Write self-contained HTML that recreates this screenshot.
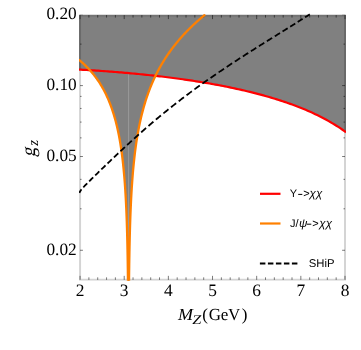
<!DOCTYPE html>
<html><head><meta charset="utf-8"><style>
html,body{margin:0;padding:0;background:#fff;}
svg{display:block;will-change:transform}
text{fill:#000;text-rendering:geometricPrecision}
.s{font-family:"Liberation Serif",serif}
.n{font-family:"Liberation Sans",sans-serif;}
</style></head><body>
<svg width="361" height="350" viewBox="0 0 361 350">
<rect width="361" height="350" fill="#fff"/>
<defs><clipPath id="c"><rect x="79.00" y="14.80" width="267.00" height="266.05"/></clipPath><clipPath id="c2"><rect x="79.00" y="5" width="267.00" height="275.85"/></clipPath></defs>
<path d="M79.00,14.80 L79.00,69.57 L79.66,69.60 L80.31,69.64 L80.97,69.68 L81.62,69.71 L82.28,69.75 L82.93,69.78 L83.59,69.82 L84.24,69.86 L84.90,69.90 L85.55,69.93 L86.21,69.97 L86.86,70.01 L87.52,70.05 L88.17,70.09 L88.83,70.13 L89.48,70.17 L90.14,70.44 L90.79,71.18 L91.45,71.93 L92.10,72.70 L92.76,73.49 L93.41,74.30 L94.07,75.12 L94.72,75.97 L95.38,76.83 L96.04,77.71 L96.69,78.62 L97.35,79.54 L98.00,80.49 L98.66,81.47 L99.31,82.47 L99.97,83.49 L100.62,84.54 L101.28,85.62 L101.93,86.73 L102.59,87.88 L103.24,89.05 L103.90,90.26 L104.55,91.51 L105.21,92.79 L105.86,94.12 L106.52,95.49 L107.17,96.91 L107.83,98.37 L108.48,99.89 L109.14,101.46 L109.79,103.09 L110.45,104.78 L111.10,106.54 L111.76,108.38 L112.41,110.29 L113.07,112.29 L113.73,114.38 L114.38,116.57 L115.04,118.88 L115.69,121.30 L116.35,123.86 L117.00,126.57 L117.66,129.45 L118.31,132.51 L118.97,135.79 L119.62,139.30 L120.28,143.10 L120.93,147.23 L121.59,151.74 L122.24,156.72 L122.90,162.26 L123.55,168.51 L124.21,175.67 L124.23,175.93 L124.25,176.19 L124.27,176.45 L124.30,176.72 L124.32,176.98 L124.34,177.25 L124.36,177.52 L124.39,177.79 L124.41,178.06 L124.43,178.34 L124.45,178.61 L124.47,178.89 L124.50,179.17 L124.52,179.45 L124.54,179.73 L124.56,180.01 L124.58,180.30 L124.61,180.58 L124.63,180.87 L124.65,181.16 L124.67,181.45 L124.70,181.75 L124.72,182.04 L124.74,182.34 L124.76,182.64 L124.78,182.94 L124.81,183.24 L124.83,183.54 L124.85,183.85 L124.87,184.16 L124.89,184.47 L124.92,184.78 L124.94,185.09 L124.96,185.41 L124.98,185.73 L125.01,186.04 L125.03,186.37 L125.05,186.69 L125.07,187.02 L125.09,187.34 L125.12,187.67 L125.14,188.01 L125.16,188.34 L125.18,188.68 L125.20,189.02 L125.23,189.36 L125.25,189.70 L125.27,190.05 L125.29,190.40 L125.32,190.75 L125.34,191.10 L125.36,191.46 L125.38,191.82 L125.40,192.18 L125.43,192.54 L125.45,192.91 L125.47,193.28 L125.49,193.65 L125.51,194.02 L125.54,194.40 L125.56,194.78 L125.58,195.16 L125.60,195.55 L125.62,195.94 L125.65,196.33 L125.67,196.73 L125.69,197.13 L125.71,197.53 L125.74,197.93 L125.76,198.34 L125.78,198.75 L125.80,199.17 L125.82,199.59 L125.85,200.01 L125.87,200.44 L125.89,200.86 L125.91,201.30 L125.93,201.73 L125.96,202.18 L125.98,202.62 L126.00,203.07 L126.02,203.52 L126.05,203.98 L126.07,204.44 L126.09,204.90 L126.11,205.37 L126.13,205.85 L126.16,206.33 L126.18,206.81 L126.20,207.30 L126.22,207.79 L126.24,208.29 L126.27,208.79 L126.29,209.30 L126.31,209.81 L126.33,210.33 L126.36,210.85 L126.38,211.38 L126.40,211.91 L126.42,212.45 L126.44,213.00 L126.47,213.55 L126.49,214.11 L126.51,214.67 L126.53,215.24 L126.55,215.82 L126.58,216.40 L126.60,216.99 L126.62,217.59 L126.64,218.20 L126.67,218.81 L126.69,219.43 L126.71,220.05 L126.73,220.69 L126.75,221.33 L126.78,221.99 L126.80,222.65 L126.82,223.31 L126.84,223.99 L126.86,224.68 L126.89,225.38 L126.91,226.08 L126.93,226.80 L126.95,227.52 L126.98,228.26 L127.00,229.01 L127.02,229.77 L127.04,230.54 L127.06,231.32 L127.09,232.12 L127.11,232.93 L127.13,233.75 L127.15,234.58 L127.17,235.43 L127.20,236.29 L127.22,237.17 L127.24,238.06 L127.26,238.97 L127.29,239.90 L127.31,240.84 L127.33,241.80 L127.35,242.78 L127.37,243.78 L127.40,244.80 L127.42,245.84 L127.44,246.90 L127.46,247.98 L127.48,249.09 L127.51,250.22 L127.53,251.38 L127.55,252.57 L127.57,253.78 L127.59,255.02 L127.62,256.30 L127.64,257.61 L127.66,258.95 L127.68,260.33 L127.71,261.74 L127.73,263.20 L127.75,264.70 L127.77,266.24 L127.79,267.84 L127.82,269.48 L127.84,271.18 L127.86,272.94 L127.88,274.77 L127.90,276.66 L127.93,278.62 L127.95,280.66 L127.97,280.85 L127.99,280.85 L128.02,280.85 L128.04,280.85 L128.06,280.85 L128.08,280.85 L128.10,280.85 L128.13,280.85 L128.15,280.85 L128.17,280.85 L128.19,280.85 L128.21,280.85 L128.24,280.85 L128.26,280.85 L128.28,280.85 L128.30,280.85 L128.33,280.85 L128.35,280.85 L128.37,280.85 L128.39,280.85 L128.41,280.85 L128.44,280.85 L128.46,280.85 L128.48,280.85 L128.50,280.85 L128.52,280.85 L128.55,280.85 L128.57,280.85 L128.59,280.85 L128.61,280.85 L128.64,280.85 L128.66,280.85 L128.68,280.85 L128.70,280.85 L128.72,280.85 L128.75,280.85 L128.77,280.85 L128.79,280.85 L128.81,280.85 L128.83,280.85 L128.86,280.85 L128.88,280.85 L128.90,280.85 L128.92,280.85 L128.95,280.85 L128.97,280.85 L128.99,280.85 L129.01,280.85 L129.03,280.52 L129.06,278.47 L129.08,276.49 L129.10,274.59 L129.12,272.76 L129.14,270.99 L129.17,269.28 L129.19,267.63 L129.21,266.02 L129.23,264.47 L129.25,262.96 L129.28,261.49 L129.30,260.06 L129.32,258.68 L129.34,257.33 L129.37,256.01 L129.39,254.73 L129.41,253.47 L129.43,252.25 L129.45,251.06 L129.48,249.89 L129.50,248.75 L129.52,247.63 L129.54,246.54 L129.56,245.47 L129.59,244.42 L129.61,243.39 L129.63,242.38 L129.65,241.40 L129.68,240.43 L129.70,239.47 L129.72,238.54 L129.74,237.62 L129.76,236.72 L129.79,235.83 L129.81,234.96 L129.83,234.10 L129.85,233.26 L129.87,232.43 L129.90,231.62 L129.92,230.81 L129.94,230.02 L129.96,229.24 L129.99,228.47 L130.01,227.72 L130.03,226.97 L130.05,226.24 L130.07,225.51 L130.10,224.80 L130.12,224.09 L130.14,223.40 L130.16,222.71 L130.18,222.03 L130.21,221.36 L130.23,220.70 L130.25,220.05 L130.27,219.41 L130.30,218.77 L130.32,218.14 L130.34,217.52 L130.36,216.91 L130.38,216.30 L130.41,215.70 L130.43,215.11 L130.45,214.53 L130.47,213.95 L130.49,213.37 L130.52,212.81 L130.54,212.25 L130.56,211.69 L130.58,211.15 L130.61,210.60 L130.63,210.07 L130.65,209.53 L130.67,209.01 L130.69,208.49 L130.72,207.97 L130.74,207.46 L130.76,206.95 L130.78,206.45 L130.80,205.96 L130.83,205.47 L130.85,204.98 L130.87,204.50 L130.89,204.02 L130.92,203.55 L130.94,203.08 L130.96,202.61 L130.98,202.15 L131.00,201.69 L131.03,201.24 L131.05,200.79 L131.07,200.35 L131.09,199.90 L131.11,199.47 L131.14,199.03 L131.16,198.60 L131.18,198.18 L131.20,197.75 L131.22,197.33 L131.25,196.92 L131.27,196.50 L131.29,196.09 L131.31,195.68 L131.34,195.28 L131.36,194.88 L131.38,194.48 L131.40,194.09 L131.42,193.70 L131.45,193.31 L131.47,192.92 L131.49,192.54 L131.51,192.16 L131.53,191.78 L131.56,191.41 L131.58,191.03 L131.60,190.66 L131.62,190.30 L131.65,189.93 L131.67,189.57 L131.69,189.21 L131.71,188.85 L131.73,188.50 L131.76,188.15 L131.78,187.80 L131.80,187.45 L131.82,187.10 L131.84,186.76 L131.87,186.42 L131.89,186.08 L131.91,185.75 L131.93,185.41 L131.96,185.08 L131.98,184.75 L132.00,184.42 L132.02,184.10 L132.04,183.77 L132.07,183.45 L132.09,183.13 L132.11,182.81 L132.13,182.50 L132.15,182.18 L132.18,181.87 L132.20,181.56 L132.22,181.25 L132.24,180.94 L132.27,180.64 L132.29,180.34 L132.31,180.03 L132.33,179.73 L132.35,179.44 L132.38,179.14 L132.40,178.85 L132.42,178.55 L132.44,178.26 L132.46,177.97 L132.49,177.68 L132.51,177.40 L132.53,177.11 L132.55,176.83 L132.58,176.54 L132.60,176.26 L132.62,175.98 L132.64,175.71 L132.66,175.43 L132.69,175.16 L132.71,174.88 L132.73,174.61 L132.75,174.34 L132.77,174.07 L132.80,173.80 L132.82,173.54 L132.84,173.27 L132.86,173.01 L132.89,172.75 L132.91,172.48 L132.93,172.22 L132.95,171.97 L132.97,171.71 L133.00,171.45 L133.02,171.20 L133.04,170.94 L133.71,163.81 L134.38,157.53 L135.04,151.91 L135.71,146.82 L136.38,142.18 L137.05,137.90 L137.71,133.93 L138.38,130.24 L139.05,126.77 L139.72,123.52 L140.38,120.44 L141.05,117.53 L141.72,114.76 L142.39,112.12 L143.05,109.60 L143.72,107.19 L144.39,104.88 L145.06,102.65 L145.72,100.51 L146.39,98.45 L147.06,96.46 L147.73,94.54 L148.39,92.68 L149.06,90.87 L149.73,89.12 L150.40,87.42 L151.06,85.77 L151.73,84.17 L152.40,82.60 L153.07,81.08 L153.74,79.59 L154.40,78.14 L155.07,76.73 L155.74,75.85 L156.41,75.93 L157.07,76.00 L157.74,76.08 L158.41,76.16 L159.08,76.24 L159.74,76.31 L160.41,76.39 L161.08,76.47 L161.75,76.55 L162.41,76.63 L163.08,76.71 L163.75,76.79 L164.42,76.87 L165.08,76.96 L165.75,77.04 L166.42,77.12 L167.09,77.20 L167.75,77.29 L168.42,77.37 L169.09,77.46 L169.76,77.54 L170.42,77.63 L171.09,77.71 L171.76,77.80 L172.43,77.88 L173.10,77.97 L173.76,78.06 L174.43,78.15 L175.10,78.24 L175.77,78.33 L176.43,78.41 L177.10,78.51 L177.77,78.60 L178.44,78.69 L179.10,78.78 L179.77,78.87 L180.44,78.96 L181.11,79.06 L181.77,79.15 L182.44,79.24 L183.11,79.34 L183.78,79.43 L184.44,79.53 L185.11,79.62 L185.78,79.72 L186.45,79.82 L187.11,79.92 L187.78,80.01 L188.45,80.11 L189.12,80.21 L189.78,80.31 L190.45,80.41 L191.12,80.51 L191.79,80.61 L192.46,80.72 L193.12,80.82 L193.79,80.92 L194.46,81.03 L195.13,81.13 L195.79,81.23 L196.46,81.34 L197.13,81.44 L197.80,81.55 L198.46,81.66 L199.13,81.77 L199.80,81.87 L200.47,81.98 L201.13,82.09 L201.80,82.20 L202.47,82.31 L203.14,82.42 L203.80,82.53 L204.47,82.65 L205.14,82.76 L205.81,82.87 L206.47,82.99 L207.14,83.10 L207.81,83.22 L208.48,83.33 L209.14,83.45 L209.81,83.56 L210.48,83.68 L211.15,83.80 L211.82,83.92 L212.48,84.04 L213.15,84.16 L213.82,84.28 L214.49,84.40 L215.15,84.52 L215.82,84.65 L216.49,84.77 L217.16,84.89 L217.82,85.02 L218.49,85.14 L219.16,85.27 L219.83,85.40 L220.49,85.53 L221.16,85.65 L221.83,85.78 L222.50,85.91 L223.16,86.04 L223.83,86.17 L224.50,86.31 L225.17,86.44 L225.83,86.57 L226.50,86.71 L227.17,86.84 L227.84,86.98 L228.50,87.11 L229.17,87.25 L229.84,87.39 L230.51,87.52 L231.18,87.66 L231.84,87.80 L232.51,87.94 L233.18,88.09 L233.85,88.23 L234.51,88.37 L235.18,88.52 L235.85,88.66 L236.52,88.81 L237.18,88.95 L237.85,89.10 L238.52,89.25 L239.19,89.40 L239.85,89.55 L240.52,89.70 L241.19,89.85 L241.86,90.00 L242.52,90.15 L243.19,90.31 L243.86,90.46 L244.53,90.62 L245.19,90.77 L245.86,90.93 L246.53,91.09 L247.20,91.25 L247.86,91.41 L248.53,91.57 L249.20,91.73 L249.87,91.90 L250.54,92.06 L251.20,92.22 L251.87,92.39 L252.54,92.56 L253.21,92.72 L253.87,92.89 L254.54,93.06 L255.21,93.23 L255.88,93.41 L256.54,93.58 L257.21,93.75 L257.88,93.93 L258.55,94.10 L259.21,94.28 L259.88,94.46 L260.55,94.64 L261.22,94.82 L261.88,95.00 L262.55,95.18 L263.22,95.36 L263.89,95.55 L264.55,95.73 L265.22,95.92 L265.89,96.11 L266.56,96.30 L267.22,96.49 L267.89,96.68 L268.56,96.87 L269.23,97.07 L269.90,97.26 L270.56,97.46 L271.23,97.65 L271.90,97.85 L272.57,98.05 L273.23,98.25 L273.90,98.46 L274.57,98.66 L275.24,98.87 L275.90,99.07 L276.57,99.28 L277.24,99.49 L277.91,99.70 L278.57,99.91 L279.24,100.12 L279.91,100.34 L280.58,100.55 L281.24,100.77 L281.91,100.99 L282.58,101.21 L283.25,101.43 L283.91,101.66 L284.58,101.88 L285.25,102.11 L285.92,102.33 L286.58,102.56 L287.25,102.79 L287.92,103.03 L288.59,103.26 L289.26,103.50 L289.92,103.73 L290.59,103.97 L291.26,104.21 L291.93,104.45 L292.59,104.70 L293.26,104.94 L293.93,105.19 L294.60,105.44 L295.26,105.69 L295.93,105.94 L296.60,106.20 L297.27,106.45 L297.93,106.71 L298.60,106.97 L299.27,107.23 L299.94,107.50 L300.60,107.76 L301.27,108.03 L301.94,108.30 L302.61,108.57 L303.27,108.85 L303.94,109.12 L304.61,109.40 L305.28,109.68 L305.94,109.96 L306.61,110.25 L307.28,110.53 L307.95,110.82 L308.62,111.11 L309.28,111.41 L309.95,111.70 L310.62,112.00 L311.29,112.30 L311.95,112.60 L312.62,112.91 L313.29,113.22 L313.96,113.53 L314.62,113.84 L315.29,114.15 L315.96,114.47 L316.63,114.79 L317.29,115.12 L317.96,115.44 L318.63,115.77 L319.30,116.10 L319.96,116.44 L320.63,116.77 L321.30,117.11 L321.97,117.46 L322.63,117.80 L323.30,118.15 L323.97,118.50 L324.64,118.86 L325.30,119.22 L325.97,119.58 L326.64,119.95 L327.31,120.31 L327.98,120.69 L328.64,121.06 L329.31,121.44 L329.98,121.82 L330.65,122.21 L331.31,122.60 L331.98,122.99 L332.65,123.39 L333.32,123.79 L333.98,124.20 L334.65,124.61 L335.32,125.02 L335.99,125.44 L336.65,125.86 L337.32,126.29 L337.99,126.72 L338.66,127.15 L339.32,127.59 L339.99,128.04 L340.66,128.49 L341.33,128.94 L341.99,129.40 L342.66,129.87 L343.33,130.34 L344.00,130.81 L344.66,131.29 L345.33,131.78 L346.00,132.27 L346.00,14.80 Z" fill="#808080"/>
<line x1="128.59" y1="73.09" x2="128.59" y2="259.85" stroke="#a0a0a0" stroke-width="0.8"/>
<g clip-path="url(#c)" fill="none" stroke-linejoin="round">
<path d="M80.05,14.80 V279.85 H345.00 V14.80" stroke="rgba(0,0,0,0.17)" stroke-width="2" stroke-linejoin="miter"/>
<path d="M81.05,15.70 H344.00" stroke="rgba(0,0,0,0.09)" stroke-width="2"/>
<path d="M80.05,279.85 v-4.00 M80.05,15.10 v4.00 M88.88,279.85 v-2.50 M88.88,15.10 v2.50 M97.71,279.85 v-2.50 M97.71,15.10 v2.50 M106.55,279.85 v-2.50 M106.55,15.10 v2.50 M115.38,279.85 v-2.50 M115.38,15.10 v2.50 M124.21,279.85 v-4.00 M124.21,15.10 v4.00 M133.04,279.85 v-2.50 M133.04,15.10 v2.50 M141.87,279.85 v-2.50 M141.87,15.10 v2.50 M150.70,279.85 v-2.50 M150.70,15.10 v2.50 M159.53,279.85 v-2.50 M159.53,15.10 v2.50 M168.37,279.85 v-4.00 M168.37,15.10 v4.00 M177.20,279.85 v-2.50 M177.20,15.10 v2.50 M186.03,279.85 v-2.50 M186.03,15.10 v2.50 M194.86,279.85 v-2.50 M194.86,15.10 v2.50 M203.69,279.85 v-2.50 M203.69,15.10 v2.50 M212.52,279.85 v-4.00 M212.52,15.10 v4.00 M221.36,279.85 v-2.50 M221.36,15.10 v2.50 M230.19,279.85 v-2.50 M230.19,15.10 v2.50 M239.02,279.85 v-2.50 M239.02,15.10 v2.50 M247.85,279.85 v-2.50 M247.85,15.10 v2.50 M256.68,279.85 v-4.00 M256.68,15.10 v4.00 M265.51,279.85 v-2.50 M265.51,15.10 v2.50 M274.35,279.85 v-2.50 M274.35,15.10 v2.50 M283.18,279.85 v-2.50 M283.18,15.10 v2.50 M292.01,279.85 v-2.50 M292.01,15.10 v2.50 M300.84,279.85 v-4.00 M300.84,15.10 v4.00 M309.67,279.85 v-2.50 M309.67,15.10 v2.50 M318.50,279.85 v-2.50 M318.50,15.10 v2.50 M327.34,279.85 v-2.50 M327.34,15.10 v2.50 M336.17,279.85 v-2.50 M336.17,15.10 v2.50 M345.00,279.85 v-4.00 M345.00,15.10 v4.00 M80.05,250.28 h2.90 M345.00,250.28 h-2.90 M80.05,208.79 h1.50 M345.00,208.79 h-1.50 M80.05,179.35 h1.50 M345.00,179.35 h-1.50 M80.05,156.52 h2.90 M345.00,156.52 h-2.90 M80.05,137.87 h1.50 M345.00,137.87 h-1.50 M80.05,122.09 h1.50 M345.00,122.09 h-1.50 M80.05,108.43 h1.50 M345.00,108.43 h-1.50 M80.05,96.38 h1.50 M345.00,96.38 h-1.50 M80.05,85.60 h2.90 M345.00,85.60 h-2.90 M80.05,44.11 h1.50 M345.00,44.11 h-1.50 M80.05,14.68 h2.90 M345.00,14.68 h-2.90" stroke="rgba(0,0,0,0.58)" stroke-width="0.9"/>
<path d="M79.00,69.57 L80.92,69.67 L82.84,69.78 L84.76,69.89 L86.68,70.00 L88.60,70.11 L90.53,70.23 L92.45,70.35 L94.37,70.47 L96.29,70.60 L98.21,70.72 L100.13,70.85 L102.05,70.98 L103.97,71.12 L105.89,71.26 L107.81,71.40 L109.73,71.54 L111.65,71.69 L113.58,71.84 L115.50,71.99 L117.42,72.14 L119.34,72.30 L121.26,72.46 L123.18,72.62 L125.10,72.79 L127.02,72.96 L128.94,73.13 L130.86,73.30 L132.78,73.48 L134.71,73.66 L136.63,73.84 L138.55,74.03 L140.47,74.22 L142.39,74.41 L144.31,74.61 L146.23,74.81 L148.15,75.01 L150.07,75.22 L151.99,75.43 L153.91,75.64 L155.83,75.86 L157.76,76.08 L159.68,76.31 L161.60,76.53 L163.52,76.76 L165.44,77.00 L167.36,77.24 L169.28,77.48 L171.20,77.73 L173.12,77.98 L175.04,78.23 L176.96,78.49 L178.88,78.75 L180.81,79.01 L182.73,79.28 L184.65,79.56 L186.57,79.84 L188.49,80.12 L190.41,80.41 L192.33,80.70 L194.25,80.99 L196.17,81.29 L198.09,81.60 L200.01,81.91 L201.94,82.22 L203.86,82.54 L205.78,82.87 L207.70,83.20 L209.62,83.53 L211.54,83.87 L213.46,84.22 L215.38,84.57 L217.30,84.92 L219.22,85.28 L221.14,85.65 L223.06,86.02 L224.99,86.40 L226.91,86.79 L228.83,87.18 L230.75,87.57 L232.67,87.98 L234.59,88.39 L236.51,88.80 L238.43,89.23 L240.35,89.66 L242.27,90.09 L244.19,90.54 L246.12,90.99 L248.04,91.45 L249.96,91.92 L251.88,92.39 L253.80,92.87 L255.72,93.36 L257.64,93.86 L259.56,94.37 L261.48,94.89 L263.40,95.41 L265.32,95.95 L267.24,96.49 L269.17,97.05 L271.09,97.61 L273.01,98.19 L274.93,98.77 L276.85,99.37 L278.77,99.97 L280.69,100.59 L282.61,101.22 L284.53,101.86 L286.45,102.52 L288.37,103.19 L290.29,103.87 L292.22,104.56 L294.14,105.27 L296.06,105.99 L297.98,106.73 L299.90,107.48 L301.82,108.25 L303.74,109.04 L305.66,109.84 L307.58,110.66 L309.50,111.50 L311.42,112.36 L313.35,113.24 L315.27,114.14 L317.19,115.06 L319.11,116.01 L321.03,116.98 L322.95,117.97 L324.87,118.98 L326.79,120.03 L328.71,121.10 L330.63,122.20 L332.55,123.34 L334.47,124.50 L336.40,125.70 L338.32,126.93 L340.24,128.20 L342.16,129.52 L344.08,130.87 L346.00,132.27" stroke="#ff0000" stroke-width="2.2"/>
</g><g clip-path="url(#c2)" fill="none" stroke-linejoin="round">
<path d="M79.00,59.88 L79.66,60.41 L80.31,60.95 L80.97,61.50 L81.62,62.07 L82.28,62.64 L82.93,63.22 L83.59,63.82 L84.24,64.42 L84.90,65.04 L85.55,65.67 L86.21,66.31 L86.86,66.96 L87.52,67.63 L88.17,68.31 L88.83,69.01 L89.48,69.72 L90.14,70.44 L90.79,71.18 L91.45,71.93 L92.10,72.70 L92.76,73.49 L93.41,74.30 L94.07,75.12 L94.72,75.97 L95.38,76.83 L96.04,77.71 L96.69,78.62 L97.35,79.54 L98.00,80.49 L98.66,81.47 L99.31,82.47 L99.97,83.49 L100.62,84.54 L101.28,85.62 L101.93,86.73 L102.59,87.88 L103.24,89.05 L103.90,90.26 L104.55,91.51 L105.21,92.79 L105.86,94.12 L106.52,95.49 L107.17,96.91 L107.83,98.37 L108.48,99.89 L109.14,101.46 L109.79,103.09 L110.45,104.78 L111.10,106.54 L111.76,108.38 L112.41,110.29 L113.07,112.29 L113.73,114.38 L114.38,116.57 L115.04,118.88 L115.69,121.30 L116.35,123.86 L117.00,126.57 L117.66,129.45 L118.31,132.51 L118.97,135.79 L119.62,139.30 L120.28,143.10 L120.93,147.23 L121.59,151.74 L122.24,156.72 L122.90,162.26 L123.55,168.51 L124.21,175.67 L124.23,175.93 L124.25,176.19 L124.27,176.45 L124.30,176.72 L124.32,176.98 L124.34,177.25 L124.36,177.52 L124.39,177.79 L124.41,178.06 L124.43,178.34 L124.45,178.61 L124.47,178.89 L124.50,179.17 L124.52,179.45 L124.54,179.73 L124.56,180.01 L124.58,180.30 L124.61,180.58 L124.63,180.87 L124.65,181.16 L124.67,181.45 L124.70,181.75 L124.72,182.04 L124.74,182.34 L124.76,182.64 L124.78,182.94 L124.81,183.24 L124.83,183.54 L124.85,183.85 L124.87,184.16 L124.89,184.47 L124.92,184.78 L124.94,185.09 L124.96,185.41 L124.98,185.73 L125.01,186.04 L125.03,186.37 L125.05,186.69 L125.07,187.02 L125.09,187.34 L125.12,187.67 L125.14,188.01 L125.16,188.34 L125.18,188.68 L125.20,189.02 L125.23,189.36 L125.25,189.70 L125.27,190.05 L125.29,190.40 L125.32,190.75 L125.34,191.10 L125.36,191.46 L125.38,191.82 L125.40,192.18 L125.43,192.54 L125.45,192.91 L125.47,193.28 L125.49,193.65 L125.51,194.02 L125.54,194.40 L125.56,194.78 L125.58,195.16 L125.60,195.55 L125.62,195.94 L125.65,196.33 L125.67,196.73 L125.69,197.13 L125.71,197.53 L125.74,197.93 L125.76,198.34 L125.78,198.75 L125.80,199.17 L125.82,199.59 L125.85,200.01 L125.87,200.44 L125.89,200.86 L125.91,201.30 L125.93,201.73 L125.96,202.18 L125.98,202.62 L126.00,203.07 L126.02,203.52 L126.05,203.98 L126.07,204.44 L126.09,204.90 L126.11,205.37 L126.13,205.85 L126.16,206.33 L126.18,206.81 L126.20,207.30 L126.22,207.79 L126.24,208.29 L126.27,208.79 L126.29,209.30 L126.31,209.81 L126.33,210.33 L126.36,210.85 L126.38,211.38 L126.40,211.91 L126.42,212.45 L126.44,213.00 L126.47,213.55 L126.49,214.11 L126.51,214.67 L126.53,215.24 L126.55,215.82 L126.58,216.40 L126.60,216.99 L126.62,217.59 L126.64,218.20 L126.67,218.81 L126.69,219.43 L126.71,220.05 L126.73,220.69 L126.75,221.33 L126.78,221.99 L126.80,222.65 L126.82,223.31 L126.84,223.99 L126.86,224.68 L126.89,225.38 L126.91,226.08 L126.93,226.80 L126.95,227.52 L126.98,228.26 L127.00,229.01 L127.02,229.77 L127.04,230.54 L127.06,231.32 L127.09,232.12 L127.11,232.93 L127.13,233.75 L127.15,234.58 L127.17,235.43 L127.20,236.29 L127.22,237.17 L127.24,238.06 L127.26,238.97 L127.29,239.90 L127.31,240.84 L127.33,241.80 L127.35,242.78 L127.37,243.78 L127.40,244.80 L127.42,245.84 L127.44,246.90 L127.46,247.98 L127.48,249.09 L127.51,250.22 L127.53,251.38 L127.55,252.57 L127.57,253.78 L127.59,255.02 L127.62,256.30 L127.64,257.61 L127.66,258.95 L127.68,260.33 L127.71,261.74 L127.73,263.20 L127.75,264.70 L127.77,266.24 L127.79,267.84 L127.82,269.48 L127.84,271.18 L127.86,272.94 L127.88,274.77 L127.90,276.66 L127.93,278.62 L127.95,280.66 L127.99,280.85 M128.99,280.85 L129.03,280.52 L129.06,278.47 L129.08,276.49 L129.10,274.59 L129.12,272.76 L129.14,270.99 L129.17,269.28 L129.19,267.63 L129.21,266.02 L129.23,264.47 L129.25,262.96 L129.28,261.49 L129.30,260.06 L129.32,258.68 L129.34,257.33 L129.37,256.01 L129.39,254.73 L129.41,253.47 L129.43,252.25 L129.45,251.06 L129.48,249.89 L129.50,248.75 L129.52,247.63 L129.54,246.54 L129.56,245.47 L129.59,244.42 L129.61,243.39 L129.63,242.38 L129.65,241.40 L129.68,240.43 L129.70,239.47 L129.72,238.54 L129.74,237.62 L129.76,236.72 L129.79,235.83 L129.81,234.96 L129.83,234.10 L129.85,233.26 L129.87,232.43 L129.90,231.62 L129.92,230.81 L129.94,230.02 L129.96,229.24 L129.99,228.47 L130.01,227.72 L130.03,226.97 L130.05,226.24 L130.07,225.51 L130.10,224.80 L130.12,224.09 L130.14,223.40 L130.16,222.71 L130.18,222.03 L130.21,221.36 L130.23,220.70 L130.25,220.05 L130.27,219.41 L130.30,218.77 L130.32,218.14 L130.34,217.52 L130.36,216.91 L130.38,216.30 L130.41,215.70 L130.43,215.11 L130.45,214.53 L130.47,213.95 L130.49,213.37 L130.52,212.81 L130.54,212.25 L130.56,211.69 L130.58,211.15 L130.61,210.60 L130.63,210.07 L130.65,209.53 L130.67,209.01 L130.69,208.49 L130.72,207.97 L130.74,207.46 L130.76,206.95 L130.78,206.45 L130.80,205.96 L130.83,205.47 L130.85,204.98 L130.87,204.50 L130.89,204.02 L130.92,203.55 L130.94,203.08 L130.96,202.61 L130.98,202.15 L131.00,201.69 L131.03,201.24 L131.05,200.79 L131.07,200.35 L131.09,199.90 L131.11,199.47 L131.14,199.03 L131.16,198.60 L131.18,198.18 L131.20,197.75 L131.22,197.33 L131.25,196.92 L131.27,196.50 L131.29,196.09 L131.31,195.68 L131.34,195.28 L131.36,194.88 L131.38,194.48 L131.40,194.09 L131.42,193.70 L131.45,193.31 L131.47,192.92 L131.49,192.54 L131.51,192.16 L131.53,191.78 L131.56,191.41 L131.58,191.03 L131.60,190.66 L131.62,190.30 L131.65,189.93 L131.67,189.57 L131.69,189.21 L131.71,188.85 L131.73,188.50 L131.76,188.15 L131.78,187.80 L131.80,187.45 L131.82,187.10 L131.84,186.76 L131.87,186.42 L131.89,186.08 L131.91,185.75 L131.93,185.41 L131.96,185.08 L131.98,184.75 L132.00,184.42 L132.02,184.10 L132.04,183.77 L132.07,183.45 L132.09,183.13 L132.11,182.81 L132.13,182.50 L132.15,182.18 L132.18,181.87 L132.20,181.56 L132.22,181.25 L132.24,180.94 L132.27,180.64 L132.29,180.34 L132.31,180.03 L132.33,179.73 L132.35,179.44 L132.38,179.14 L132.40,178.85 L132.42,178.55 L132.44,178.26 L132.46,177.97 L132.49,177.68 L132.51,177.40 L132.53,177.11 L132.55,176.83 L132.58,176.54 L132.60,176.26 L132.62,175.98 L132.64,175.71 L132.66,175.43 L132.69,175.16 L132.71,174.88 L132.73,174.61 L132.75,174.34 L132.77,174.07 L132.80,173.80 L132.82,173.54 L132.84,173.27 L132.86,173.01 L132.89,172.75 L132.91,172.48 L132.93,172.22 L132.95,171.97 L132.97,171.71 L133.00,171.45 L133.02,171.20 L133.04,170.94 L133.71,163.81 L134.38,157.53 L135.04,151.91 L135.71,146.82 L136.38,142.18 L137.05,137.90 L137.71,133.93 L138.38,130.24 L139.05,126.77 L139.72,123.52 L140.38,120.44 L141.05,117.53 L141.72,114.76 L142.39,112.12 L143.05,109.60 L143.72,107.19 L144.39,104.88 L145.06,102.65 L145.72,100.51 L146.39,98.45 L147.06,96.46 L147.73,94.54 L148.39,92.68 L149.06,90.87 L149.73,89.12 L150.40,87.42 L151.06,85.77 L151.73,84.17 L152.40,82.60 L153.07,81.08 L153.74,79.59 L154.40,78.14 L155.07,76.73 L155.74,75.34 L156.41,73.99 L157.07,72.67 L157.74,71.38 L158.41,70.11 L159.08,68.87 L159.74,67.65 L160.41,66.46 L161.08,65.29 L161.75,64.14 L162.41,63.01 L163.08,61.90 L163.75,60.81 L164.42,59.74 L165.08,58.69 L165.75,57.66 L166.42,56.64 L167.09,55.64 L167.75,54.65 L168.42,53.68 L169.09,52.72 L169.76,51.78 L170.42,50.85 L171.09,49.93 L171.76,49.03 L172.43,48.14 L173.10,47.26 L173.76,46.39 L174.43,45.53 L175.10,44.69 L175.77,43.86 L176.43,43.03 L177.10,42.22 L177.77,41.41 L178.44,40.62 L179.10,39.84 L179.77,39.06 L180.44,38.29 L181.11,37.53 L181.77,36.79 L182.44,36.04 L183.11,35.31 L183.78,34.58 L184.44,33.87 L185.11,33.16 L185.78,32.45 L186.45,31.76 L187.11,31.07 L187.78,30.39 L188.45,29.71 L189.12,29.04 L189.78,28.38 L190.45,27.72 L191.12,27.07 L191.79,26.43 L192.46,25.79 L193.12,25.16 L193.79,24.53 L194.46,23.91 L195.13,23.30 L195.79,22.69 L196.46,22.08 L197.13,21.48 L197.80,20.89 L198.46,20.30 L199.13,19.71 L199.80,19.13 L200.47,18.56 L201.13,17.98 L201.80,17.42 L202.47,16.86 L203.14,16.30 L203.80,15.74 L204.47,15.19" stroke="#ff8000" stroke-width="2.3" stroke-linecap="round"/>
</g><g clip-path="url(#c)" fill="none" stroke-linejoin="round">
</g><g clip-path="url(#c2)" fill="none" stroke-linejoin="round">
<path d="M79.30,192.99 L79.65,192.22 L80.07,191.47 L80.53,190.76 L81.03,190.07 L81.55,189.39 M83.34,187.31 L84.10,186.49 L84.87,185.68 L85.65,184.87 L86.43,184.07 L87.22,183.27 M89.17,181.33 L89.98,180.53 L90.79,179.74 L91.59,178.94 L92.40,178.15 L93.21,177.36 M95.21,175.42 L96.03,174.62 L96.85,173.82 L97.67,173.03 L98.49,172.23 L99.31,171.43 M101.33,169.48 L102.16,168.67 L103.00,167.87 L103.83,167.06 L104.66,166.26 L105.50,165.46 M107.55,163.48 L108.40,162.67 L109.25,161.85 L110.11,161.03 L110.96,160.22 L111.81,159.40 M113.92,157.40 L114.79,156.57 L115.66,155.74 L116.54,154.91 L117.41,154.09 L118.29,153.26 M120.45,151.23 L121.34,150.39 L122.24,149.55 L123.14,148.72 L124.04,147.88 L124.94,147.04 M127.16,144.99 L128.08,144.14 L129.00,143.30 L129.92,142.45 L130.85,141.60 L131.78,140.76 M134.06,138.69 L135.01,137.83 L135.96,136.98 L136.91,136.12 L137.86,135.27 L138.82,134.42 M141.17,132.33 L142.14,131.47 L143.12,130.61 L144.10,129.76 L145.08,128.90 L146.06,128.05 M148.48,125.95 L149.47,125.10 L150.46,124.25 L151.45,123.40 L152.44,122.56 L153.43,121.71 M155.89,119.64 L156.89,118.80 L157.89,117.96 L158.89,117.13 L159.90,116.29 L160.91,115.46 M163.39,113.42 L164.41,112.59 L165.42,111.76 L166.44,110.94 L167.46,110.11 L168.48,109.29 M171.00,107.28 L172.03,106.46 L173.06,105.65 L174.09,104.83 L175.13,104.02 L176.16,103.21 M178.72,101.23 L179.76,100.42 L180.80,99.62 L181.85,98.82 L182.90,98.02 L183.94,97.22 M186.53,95.27 L187.59,94.47 L188.65,93.68 L189.70,92.89 L190.76,92.11 L191.83,91.32 M194.45,89.39 L195.52,88.61 L196.59,87.83 L197.66,87.06 L198.73,86.28 L199.81,85.51 M202.46,83.61 L203.54,82.84 L204.62,82.08 L205.70,81.31 L206.78,80.55 L207.86,79.79 M210.54,77.92 L211.62,77.17 L212.70,76.43 L213.78,75.68 L214.86,74.93 L215.95,74.19 M218.62,72.37 L219.71,71.63 L220.79,70.90 L221.87,70.17 L222.95,69.45 L224.04,68.72 M226.71,66.93 L227.79,66.22 L228.87,65.50 L229.96,64.79 L231.04,64.07 L232.12,63.36 M234.80,61.61 L235.87,60.91 L236.95,60.21 L238.03,59.50 L239.11,58.80 L240.20,58.11 M242.86,56.39 L243.94,55.70 L245.02,55.01 L246.09,54.32 L247.17,53.63 L248.25,52.94 M250.91,51.25 L251.98,50.57 L253.05,49.90 L254.13,49.22 L255.20,48.54 L256.27,47.86 M258.92,46.20 L259.99,45.53 L261.06,44.86 L262.12,44.19 L263.19,43.52 L264.26,42.85 M266.89,41.20 L267.95,40.54 L269.01,39.88 L270.06,39.23 L271.12,38.57 L272.18,37.91 M274.78,36.29 L275.82,35.64 L276.86,34.99 L277.90,34.34 L278.95,33.69 L279.99,33.04 M282.56,31.44 L283.58,30.80 L284.61,30.16 L285.64,29.52 L286.67,28.88 L287.69,28.24 M290.22,26.66 L291.23,26.03 L292.23,25.40 L293.24,24.77 L294.24,24.14 L295.25,23.51 M297.72,21.96 L298.69,21.34 L299.67,20.72 L300.65,20.11 L301.62,19.49 L302.60,18.87 M305.00,17.35 L305.95,16.74 L306.90,16.14 L307.85,15.53 L308.80,14.92 L309.75,14.32" stroke="#000" stroke-width="1.8"/>
</g>
<g class="s" font-size="17.3" text-anchor="end">
<text x="76.7" y="19.38">0.20</text>
<text x="76.7" y="89.80">0.10</text>
<text x="76.7" y="160.72">0.05</text>
<text x="76.7" y="255.08">0.02</text>
</g>
<g class="s" font-size="17.4" text-anchor="middle">
<text x="80.05" y="295.5">2</text>
<text x="124.21" y="295.5">3</text>
<text x="168.37" y="295.5">4</text>
<text x="212.52" y="295.5">5</text>
<text x="256.68" y="295.5">6</text>
<text x="300.84" y="295.5">7</text>
<text x="345.00" y="295.5">8</text>
</g>
<text class="s" font-size="17" font-style="italic" transform="translate(178,320.4) scale(1.065,1)">M</text>
<text class="s" font-size="13.5" font-style="italic" transform="translate(192.3,323.6) scale(1.2,1)">Z</text>
<text class="s" font-size="17" x="202.3" y="320.4" dx="0 0.75 -0.25 -0.2 1.3">(GeV)</text>
<text class="s" font-size="20" transform="translate(34.7,156.9) rotate(-90) skewX(-11) scale(0.93,1)">g</text>
<text class="s" font-size="15" font-style="italic" transform="translate(37.7,145.7) rotate(-90)">z</text>
<g stroke-width="2.2" fill="none">
<line x1="260" y1="193.8" x2="280.5" y2="193.8" stroke="#ff0000"/>
<line x1="260" y1="223.5" x2="280.5" y2="223.5" stroke="#ff8000"/>
<line x1="259.9" y1="263.55" x2="298" y2="263.55" stroke="#000" stroke-width="1.9" stroke-dasharray="5.5 2.5"/>
</g>
<g class="n" font-size="11">
<text x="289.8" y="197.3">&#933;</text>
<text x="303.2" y="197.3">&gt;</text>
<text x="309.6" y="197.3" font-size="11.6" font-style="italic">&#967;&#967;</text>
<text x="289.9" y="227">J</text>
<text x="295.5" y="227">/</text>
<text x="299.1" y="227" font-size="11.6" font-style="italic">&#968;</text>
<text x="312.2" y="227">&gt;</text>
<text x="319.3" y="227" font-size="11.6" font-style="italic">&#967;&#967;</text>
<text x="308.8" y="267.3" font-size="11.3">SHiP</text>
</g>
<path d="M298.2,194.4 H302.3 M306.9,224.2 H311.3" stroke="#000" stroke-width="1.0" fill="none"/>
</svg>
</body></html>
